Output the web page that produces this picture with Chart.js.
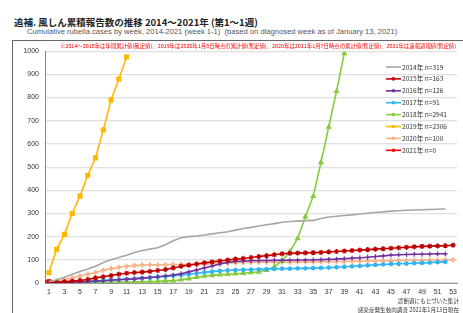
<!DOCTYPE html>
<html>
<head>
<meta charset="utf-8">
<script src="https://cdn.jsdelivr.net/npm/chart.js@4"></script>
<style>
  body { margin: 0; width: 463px; height: 313px; overflow: hidden; background: #fff; font-family: "Noto Sans CJK JP", "Noto Sans", sans-serif; position: relative; }
  #title { position: absolute; left: 14px; top: 15px; font-size: 9.5px; font-weight: bold; color: #222; white-space: nowrap; }
  #sub { position: absolute; left: 27px; top: 27px; font-size: 7.6px; color: #555; white-space: nowrap; font-family: "Liberation Sans", sans-serif; }
  #frame { position: absolute; left: 12px; top: 40px; width: 460px; height: 290px; border: 1.5px solid #666; box-sizing: border-box; }
  #note { position: absolute; left: 60px; top: 42px; font-size: 5.4px; color: #f00; white-space: nowrap; }
  #src { position: absolute; right: 4px; top: 297px; font-size: 5.6px; color: #333; text-align: right; line-height: 9px; white-space: nowrap; }
  #wrap { position: absolute; left: 13px; top: 41px; width: 450px; height: 272px; }
</style>
</head>
<body>
<div id="title">追補. 風しん累積報告数の推移 2014～2021年 (第1～1週)</div>
<div id="sub">Cumulative rubella cases by week, 2014-2021 (week 1-1)&nbsp; (based on diagnosed week as of January 13, 2021)</div>
<div id="frame"></div>
<div id="wrap"><canvas id="js--chart"></canvas></div>
<div id="note">※2014～2018年は年間累計値(確定値)、2019年は2020年1月8日時点の累計値(暫定値)、2020年は2021年1月7日時点の累計値(暫定値)、2021年は速報週報値(暫定値)</div>
<div id="src">診断週にもとづいた集計<br>感染症発生動向調査 2021年1月13日現在</div>
<script>
// 週 1〜53
var weeks = [];
for (var w = 1; w <= 53; w++) weeks.push(w);

const yTicks = [0, 100, 200, 300, 400, 500, 600, 700, 800, 900, 1000];

const labels2014 = "2014年 n=319";
const data2014 = [5, 14, 25, 38, 50, 60, 72, 88, 100, 110, 120, 132, 140, 146, 152, 165, 182, 195, 200, 203,
  207, 212, 217, 221, 228, 235, 240, 246, 251, 256, 262, 265, 267, 269, 270, 278, 285, 288, 291, 294,
  298, 301, 304, 307, 310, 312, 314, 315, 316, 317, 318, 319];

const labels2015 = "2015年 n=163";
const data2015 = [1, 3, 5, 8, 11, 15, 22, 27, 32, 38, 42, 45, 47, 50, 54, 58, 65, 72, 77, 82,
  87, 91, 95, 99, 103, 106, 110, 114, 118, 122, 126, 128, 129, 130, 131, 132, 134, 136, 138, 140,
  142, 144, 146, 148, 150, 152, 154, 156, 158, 159, 160, 161, 163];

const labels2016 = "2016年 n=126";
const data2016 = [1, 2, 3, 4, 5, 6, 8, 10, 12, 14, 16, 18, 21, 24, 27, 30, 34, 40, 48, 56,
  65, 73, 82, 89, 93, 95, 96, 97, 97, 98, 98, 98, 99, 99, 100, 101, 102, 103, 105, 107,
  109, 111, 114, 117, 120, 122, 123, 124, 124, 125, 126, 126];

const labels2017 = "2017年 n=91";
const data2017 = [1, 2, 3, 4, 6, 7, 9, 11, 13, 15, 17, 19, 21, 23, 26, 29, 32, 35, 38, 42,
  46, 49, 52, 55, 56, 57, 58, 59, 60, 61, 62, 62, 63, 63, 64, 65, 66, 68, 70, 72,
  74, 76, 78, 80, 82, 83, 84, 86, 87, 88, 90, 91];

const labels2018 = "2018年 n=2941";
const data2018 = [0, 0, 1, 1, 2, 2, 3, 3, 3, 4, 4, 5, 5, 6, 7, 9, 10, 14, 19, 25,
  30, 33, 36, 38, 40, 42, 45, 48, 55, 70, 96, 135, 192, 286, 374, 520, 673, 827, 990];

const labels2019 = "2019年 n=2306";
const data2019 = [45, 145, 210, 300, 375, 465, 540, 660, 790, 880, 975];

const labels2020 = "2020年 n=100";
const data2020 = [2, 8, 15, 22, 30, 38, 45, 55, 62, 68, 72, 75, 77, 78, 78, 79, 80, 80, 80, 81,
  82, 83, 85, 87, 88, 89, 89, 90, 90, 90, 90, 90, 91, 91, 91, 92, 92, 93, 93, 94,
  94, 95, 95, 96, 96, 97, 97, 98, 98, 99, 99, 100, 100];

const labels2021 = "2021年 n=0";
const data2021 = [0];

function ds(label, data, color, style, radius) {
  return {
    label: label, data: data,
    borderColor: color, backgroundColor: color,
    borderWidth: 1.6, pointStyle: style, pointRadius: radius,
    pointBorderWidth: 1.2, tension: 0, spanGaps: false
  };
}

const datasets = [
  ds(labels2014, data2014, "#a6a6a6", false, 0),
  ds(labels2015, data2015, "#c00000", "star", 2.6),
  ds(labels2016, data2016, "#7030a0", "cross", 2.4),
  ds(labels2017, data2017, "#2fb4f0", "star", 2.4),
  ds(labels2018, data2018, "#86cc3e", "triangle", 2.4),
  ds(labels2019, data2019, "#ffb800", "rect", 2.8),
  ds(labels2020, data2020, "#f8b388", "crossRot", 2.6),
  ds(labels2021, data2021, "#ff0000", "circle", 3.4)
];
datasets[6].pointStyle = "cross";
datasets[6].pointBorderWidth = 2;

// 凡例はグラフの中に描く
const legendInside = {
  id: "legendInside",
  afterDatasetsDraw(chart) {
    var ctx = chart.ctx;
    ctx.save();
    ctx.font = "6.6px 'Noto Sans CJK JP'";
    ctx.textBaseline = "middle";
    chart.data.datasets.forEach(function (d, i) {
      var y = 26 + i * 11.9;
      var x0 = 373, x1 = 388;
      ctx.strokeStyle = d.borderColor;
      ctx.lineWidth = 1.6;
      ctx.beginPath(); ctx.moveTo(x0, y); ctx.lineTo(x1, y); ctx.stroke();
      ctx.fillStyle = d.borderColor;
      if (d.pointRadius > 0) {
        ctx.beginPath();
        ctx.arc((x0 + x1) / 2, y, 1.8, 0, Math.PI * 2);
        ctx.fill();
      }
      ctx.fillStyle = "#333";
      ctx.fillText(d.label, x1 + 1, y);
    });
    ctx.restore();
  }
};

new Chart(document.getElementById("js--chart"), {
  type: "line",
  data: { labels: weeks, datasets: datasets },
  options: {
    responsive: true,
    maintainAspectRatio: false,
    animation: false,
    layout: { padding: { top: 5, right: 2, left: 0, bottom: 0 } },
    plugins: { legend: { display: false }, tooltip: { enabled: false } },
    scales: {
      x: {
        offset: true,
        grid: { display: false, drawTicks: false },
        border: { color: "#999" },
        ticks: {
          autoSkip: false, maxRotation: 0, padding: 5,
          font: { size: 7, family: "Liberation Sans" }, color: "#333",
          callback: function (v, i) { return (weeks[i] % 2 === 1) ? weeks[i] : ""; }
        },
        afterFit: function (s) { s.height = 30; }
      },
      y: {
        min: 0, max: 1000,
        afterBuildTicks: function (s) { s.ticks = yTicks.map(function (v) { return { value: v }; }); },
        grid: { color: "#e0e0e0", lineWidth: 1.2, drawTicks: false },
        border: { color: "#888" },
        ticks: {
          padding: 6, font: { size: 7, family: "Liberation Sans" }, color: "#333",
          callback: function (v) { return String(v); }
        },
        afterFit: function (s) { s.width = 32; }
      }
    }
  },
  plugins: [legendInside]
});
</script>
</body>
</html>
